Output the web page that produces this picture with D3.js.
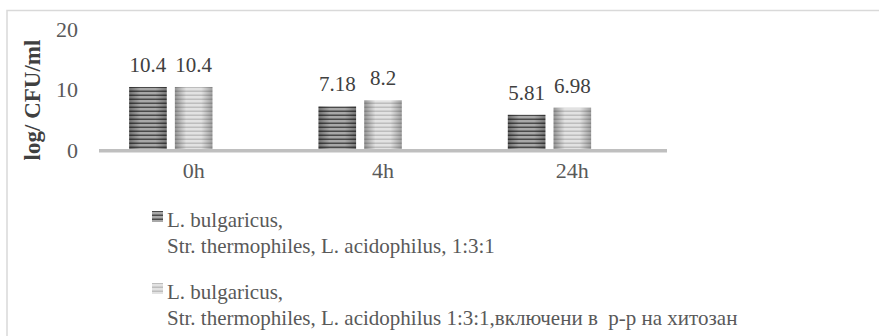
<!DOCTYPE html>
<html><head><meta charset="utf-8">
<script src="https://cdn.jsdelivr.net/npm/d3@7"></script>
<style>
html,body{margin:0;padding:0;background:#fff;}
svg text{font-family:"Liberation Serif","DejaVu Serif",serif;}
</style></head>
<body>
<svg id="chart" width="879" height="336"></svg>
<script>
const categories = ["0h", "4h", "24h"];
const seriesNames = [
  ["L. bulgaricus,", "Str. thermophiles, L. acidophilus, 1:3:1"],
  ["L. bulgaricus,", "Str. thermophiles, L. acidophilus 1:3:1,включени в  р-р на хитозан"]
];
const series1 = [10.4, 7.18, 5.81];
const series2 = [10.4, 8.2, 6.98];
const seriesKeys = ["s1", "s2", "s3"]; // third slot is an empty series in the original
const yTicks = [0, 10, 20];
const yTitle = "log/ CFU/ml";

const FONT = "'Liberation Serif', 'DejaVu Serif', serif";
const svg = d3.select("#chart");
const textColor = "#595959";

// frame
svg.append("rect").attr("x", 7).attr("y", 10.5).attr("width", 900).attr("height", 400)
  .attr("fill", "none").attr("stroke", "#d9d9d9").attr("stroke-width", 1.5);

const defs = svg.append("defs");
function stripePattern(id, base, line) {
  const p = defs.append("pattern").attr("id", id).attr("patternUnits", "userSpaceOnUse")
    .attr("width", 8).attr("height", 4);
  p.append("rect").attr("width", 8).attr("height", 4).attr("fill", base);
  p.append("rect").attr("y", 2.5).attr("width", 8).attr("height", 1.5).attr("fill", line);
}
stripePattern("pDark", "#a8a8a8", "#4a4a4a");
stripePattern("pLight", "#e2e2e2", "#bdbdbd");
const g = defs.append("linearGradient").attr("id", "edge").attr("x1", 0).attr("x2", 1).attr("y1", 0).attr("y2", 0);
g.append("stop").attr("offset", 0).attr("stop-color", "#000").attr("stop-opacity", 0.35);
g.append("stop").attr("offset", 0.3).attr("stop-color", "#000").attr("stop-opacity", 0);
g.append("stop").attr("offset", 0.7).attr("stop-color", "#000").attr("stop-opacity", 0);
g.append("stop").attr("offset", 1).attr("stop-color", "#000").attr("stop-opacity", 0.3);

const x0 = d3.scaleBand().domain(categories).range([99, 667]);
const x1 = d3.scaleBand().domain(seriesKeys).range([0, x0.bandwidth()])
  .paddingInner(0.178).paddingOuter(0.66);
const y = d3.scaleLinear().domain([0, 20]).range([150, 28.8]);

// y tick labels
svg.append("g").selectAll("text").data(yTicks).join("text")
  .attr("x", 78).attr("y", d => y(d)).attr("dy", "0.35em")
  .attr("text-anchor", "end").attr("font-size", 22).attr("fill", textColor)
  .text(d => d);

// y title
svg.append("text").attr("transform", `translate(40,100) rotate(-90)`)
  .attr("text-anchor", "middle").attr("font-size", 23).attr("font-weight", "bold")
  .attr("fill", "#404040").text(yTitle);

const data = [series1, series2];
const fills = ["url(#pDark)", "url(#pLight)"];
data.forEach((vals, si) => {
  const grp = svg.append("g");
  grp.selectAll("rect.bar").data(vals).join("rect").attr("class", "bar")
    .attr("x", (d, i) => x0(categories[i]) + x1(seriesKeys[si]))
    .attr("width", x1.bandwidth())
    .attr("y", d => y(d)).attr("height", d => y(0) - y(d))
    .attr("fill", fills[si]);
  grp.selectAll("rect.edge").data(vals).join("rect").attr("class", "edge")
    .attr("x", (d, i) => x0(categories[i]) + x1(seriesKeys[si]))
    .attr("width", x1.bandwidth())
    .attr("y", d => y(d)).attr("height", d => y(0) - y(d))
    .attr("fill", "url(#edge)");
  grp.selectAll("text").data(vals).join("text")
    .attr("x", (d, i) => x0(categories[i]) + x1(seriesKeys[si]) + x1.bandwidth() / 2)
    .attr("y", d => y(d) - 15)
    .attr("text-anchor", "middle").attr("font-size", 21).attr("fill", "#404040")
    .text(d => d);
});

// baseline
svg.append("line").attr("x1", 99).attr("x2", 667).attr("y1", y(0) + 0.8).attr("y2", y(0) + 0.8)
  .attr("stroke", "#bfbfbf").attr("stroke-width", 3.5);

// category labels
svg.append("g").selectAll("text").data(categories).join("text")
  .attr("x", d => x0(d) + x0.bandwidth() / 2).attr("y", 178)
  .attr("text-anchor", "middle").attr("font-size", 22).attr("fill", textColor)
  .text(d => d);

// legend
const legendTops = [227, 299];
seriesNames.forEach((lines, si) => {
  const base = legendTops[si];
  svg.append("rect").attr("x", 152).attr("y", base - 16).attr("width", 11).attr("height", 11)
    .attr("fill", fills[si]);
  const t = svg.append("text").attr("font-size", 21).attr("fill", textColor)
    .attr("xml:space", "preserve").style("white-space", "pre");
  lines.forEach((ln, li) => {
    t.append("tspan").attr("x", 167).attr("y", base + li * 26).text(ln);
  });
});

svg.selectAll("text").attr("font-family", FONT);
</script>
</body></html>
